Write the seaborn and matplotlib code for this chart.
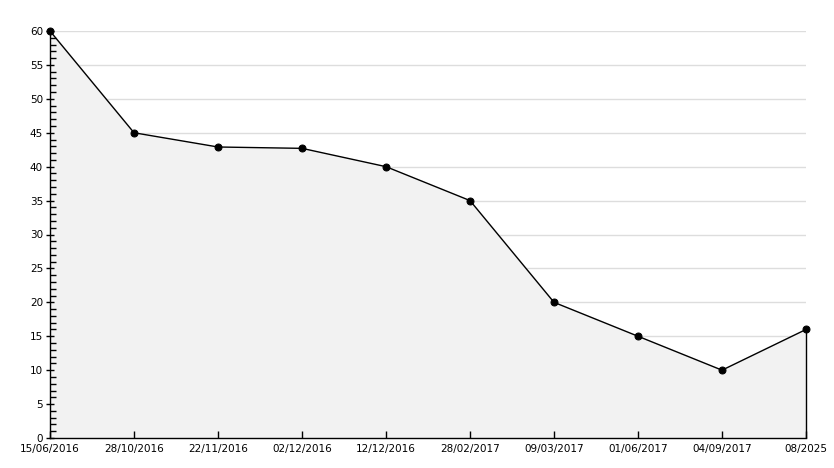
import numpy as np
import pandas as pd
import matplotlib
matplotlib.use("Agg")
import matplotlib.pyplot as plt
import seaborn as sns

dates = ["15/06/2016", "28/10/2016", "22/11/2016", "02/12/2016", "12/12/2016",
         "28/02/2017", "09/03/2017", "01/06/2017", "04/09/2017", "08/2025"]
values = [60, 45, 42.9, 42.7, 40, 35, 20, 15, 10, 16]

df = pd.DataFrame({"pos": np.arange(len(dates)), "value": values})

sns.set_style("ticks")
plt.rcParams["font.family"] = ["DejaVu Sans"]
plt.rcParams["text.color"] = "black"
plt.rcParams["xtick.color"] = "black"
plt.rcParams["ytick.color"] = "black"

fig = plt.figure(figsize=(8.34, 4.68), dpi=100)
ax = fig.add_axes([50 / 834, 30 / 468, 756 / 834, 407 / 468])

# grid sits under the filled area, ticks above it
for yv in range(5, 61, 5):
    ax.axhline(yv, color="#dddddd", linewidth=1, zorder=0.5)

ax.fill_between(df["pos"], df["value"], 0, color="#f2f2f2", zorder=1)
sns.lineplot(data=df, x="pos", y="value", ax=ax, color="black", linewidth=1,
             marker="o", markersize=5, markeredgecolor="black", zorder=3,
             clip_on=False)
ax.vlines(df["pos"].iloc[-1], 0, df["value"].iloc[-1], color="black",
          linewidth=1, zorder=3, clip_on=False)

ax.set_xlim(0, len(dates) - 1)
ax.set_ylim(0, 60)
ax.set_yticks(range(0, 61, 5))
ax.set_yticks(range(0, 61, 1), minor=True)
ax.set_xticks(df["pos"])
ax.set_xticklabels(dates)
ax.grid(False)
ax.set_axisbelow(False)

for s in ["top", "right"]:
    ax.spines[s].set_visible(False)
for s in ["left", "bottom"]:
    ax.spines[s].set_color("black")
    ax.spines[s].set_linewidth(1)

ax.tick_params(axis="y", which="major", direction="inout", length=6, width=1,
               labelsize=7.5, pad=2, left=True, color="black", labelcolor="black")
ax.tick_params(axis="y", which="minor", direction="in", length=4, width=1,
               left=True, color="black")
ax.tick_params(axis="x", which="major", direction="in", length=5, width=1,
               labelsize=7.5, pad=4, bottom=True, color="black", labelcolor="black")
ax.set_xlabel("")
ax.set_ylabel("")

fig.savefig("out.png", dpi=100, facecolor="white")
